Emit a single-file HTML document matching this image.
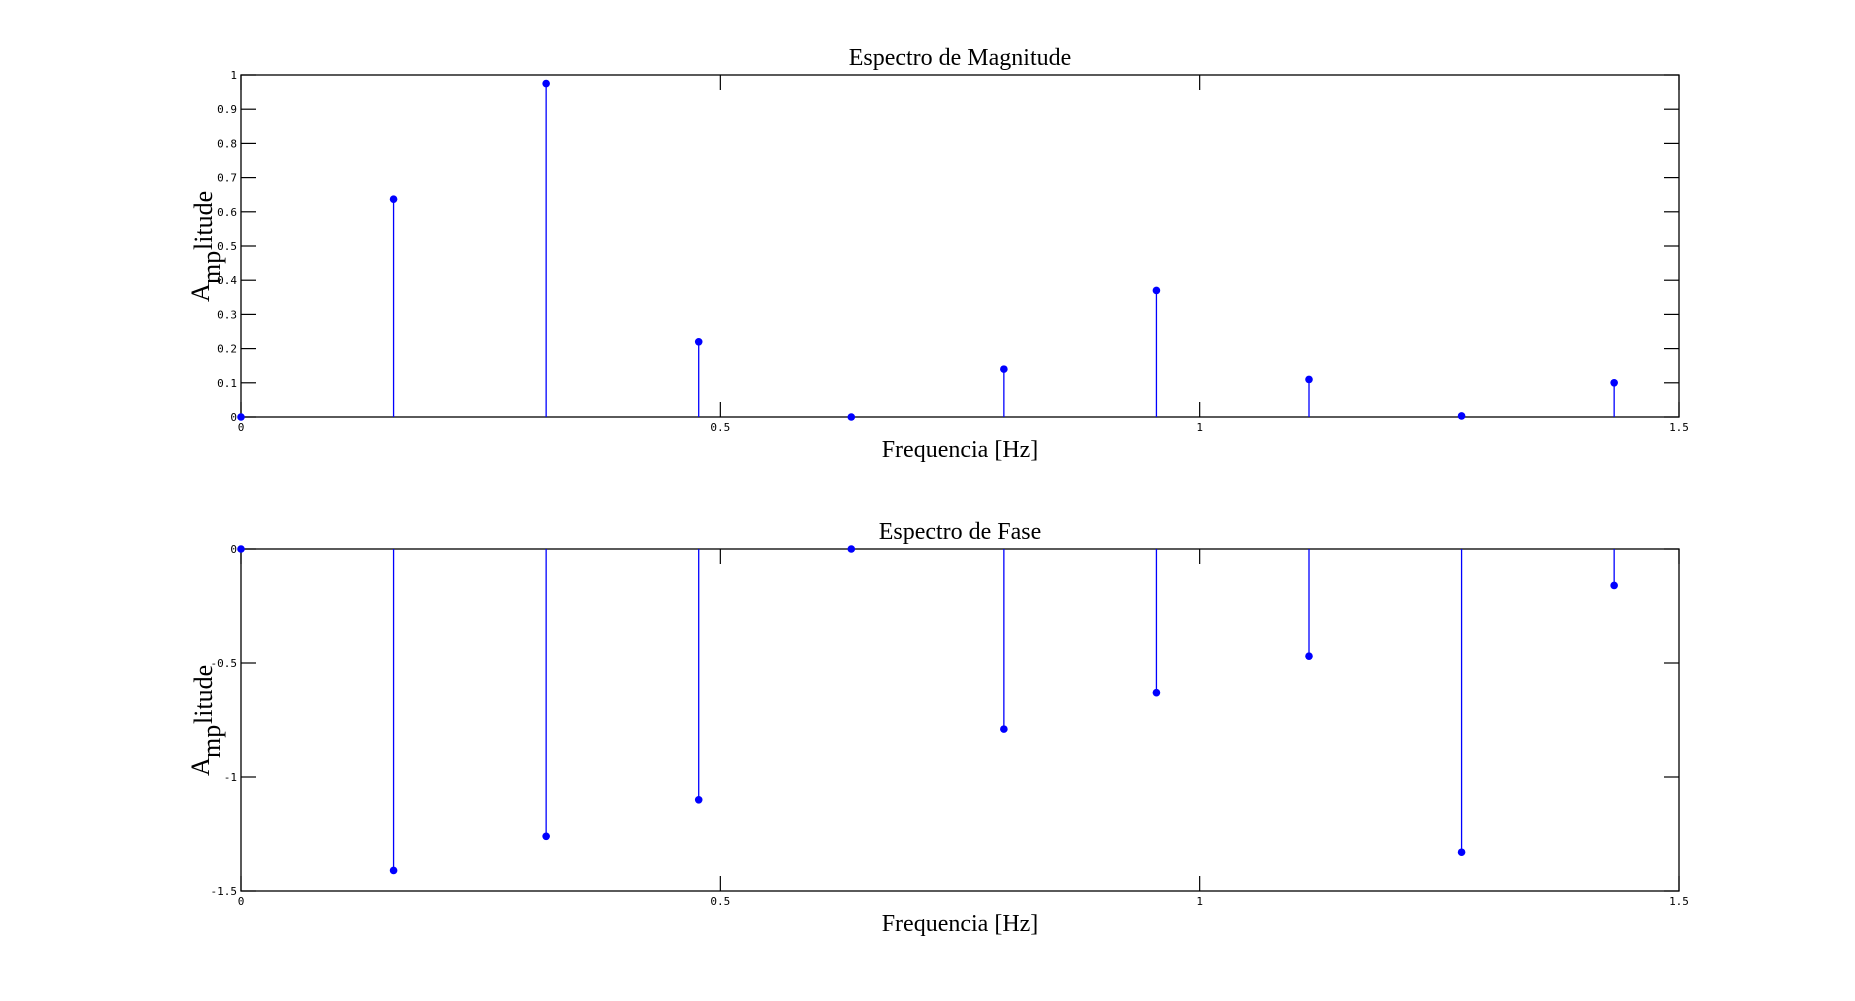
<!DOCTYPE html>
<html><head><meta charset="utf-8"><style>
body{margin:0;background:#fff;}
svg{display:block;}
text{font-family:"Liberation Serif",serif;fill:#000;}
.tk{font-family:"DejaVu Sans Mono","Liberation Mono",monospace;font-size:11px;}
</style></head><body>
<svg id="fig" width="1855" height="1001" viewBox="0 0 1855 1001" xmlns="http://www.w3.org/2000/svg"></svg>
<script>
const freqIndex = [0,1,2,3,4,5,6,7,8,9];
const freqStep = 0.15915;
const magValues = [0,0.637,0.975,0.22,0,0.14,0.37,0.11,0.003,0.10];
const phaseValues = [0,-1.41,-1.26,-1.10,0,-0.79,-0.63,-0.47,-1.33,-0.16];
const xTicks = [0,0.5,1,1.5];
const xTickLabels = ["0","0.5","1","1.5"];
const magTicks = [0,0.1,0.2,0.3,0.4,0.5,0.6,0.7,0.8,0.9,1];
const magTickLabels = ["0","0.1","0.2","0.3","0.4","0.5","0.6","0.7","0.8","0.9","1"];
const phaseTicks = [-1.5,-1,-0.5,0];
const phaseTickLabels = ["-1.5","-1","-0.5","0"];

const NS="http://www.w3.org/2000/svg";
const svg=document.getElementById('fig');
function mk(tag,attrs,parent){const e=document.createElementNS(NS,tag);for(const k in attrs)e.setAttribute(k,attrs[k]);(parent||svg).appendChild(e);return e;}

function panel(name,top,ymin,ymax,yt,ytl,vals,title){
  const L=241,R=1679,T=top,B=top+342;
  const g=mk('g',{});
  
  
  const sx=v=>L+(v-0)/(1.5)*(R-L);
  const sy=v=>B-(v-ymin)/(ymax-ymin)*(B-T);
  const frame=mk('rect',{x:L,y:T,width:R-L,height:B-T,fill:'none',stroke:'#000','stroke-width':1.3},g);
  
  
  xTicks.forEach((v,i)=>{
    const x=sx(v);
    mk('line',{x1:x,y1:B,x2:x,y2:B-15,stroke:'#000','stroke-width':1.2},g);
    mk('line',{x1:x,y1:T,x2:x,y2:T+15,stroke:'#000','stroke-width':1.2},g);
    const t=mk('text',{x:x,y:B+14,'text-anchor':'middle',class:'tk'},g);
    t.textContent=xTickLabels[i];
    
    
  });
  yt.forEach((v,i)=>{
    const y=sy(v);
    mk('line',{x1:L,y1:y,x2:L+15,y2:y,stroke:'#000','stroke-width':1.2},g);
    mk('line',{x1:R,y1:y,x2:R-15,y2:y,stroke:'#000','stroke-width':1.2},g);
    const t=mk('text',{x:L-4,y:y+4,'text-anchor':'end',class:'tk'},g);
    t.textContent=ytl[i];
    
    
  });
  vals.forEach((v,i)=>{
    const x=sx(freqIndex[i]*freqStep);
    const st=mk('line',{x1:x,y1:sy(0),x2:x,y2:sy(v),stroke:'#0000ff','stroke-width':1.3},g);
    
    
    const c=mk('circle',{cx:x,cy:sy(v),r:3.8,fill:'#0000ff'},g);
    
    
  });
  const tt=mk('text',{x:(L+R)/2,y:T-10,'text-anchor':'middle','font-size':24},g);
  tt.textContent=title;
  
  
  const xl=mk('text',{x:(L+R)/2,y:B+40,'text-anchor':'middle','font-size':24},g);
  xl.textContent='Frequencia [Hz]';
  
  
  const cy=(T+B)/2+34;
  const yl=mk('g',{transform:`translate(212,${cy}) rotate(-90)`},g);
  
  
  const a=mk('text',{x:-22,y:-3,'font-size':26},yl);a.textContent='A';
  const m=mk('text',{x:-4,y:8,'font-size':26},yl);m.textContent='mp';
  const l=mk('text',{x:30,y:0,'font-size':26},yl);l.textContent='litude';
}
panel('magnitude-panel',75,0,1,magTicks,magTickLabels,magValues,'Espectro de Magnitude');
panel('phase-panel',549,-1.5,0,phaseTicks,phaseTickLabels,phaseValues,'Espectro de Fase');
</script>
</body></html>
